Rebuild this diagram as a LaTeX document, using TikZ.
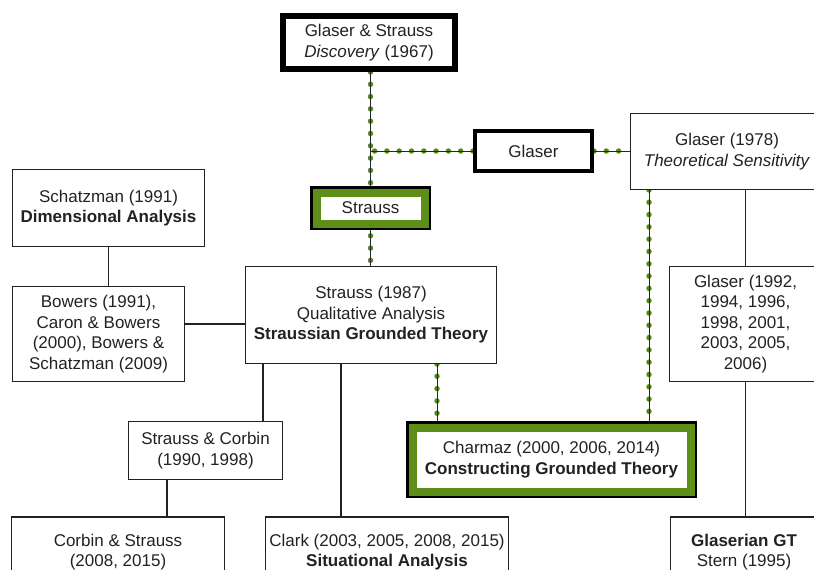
\documentclass[tikz,border=0pt]{standalone}
\usepackage{fontspec}
\setmainfont{Liberation Sans}
\usetikzlibrary{calc}
\definecolor{leaf}{RGB}{92,142,24}
\definecolor{dot}{RGB}{86,138,28}
\definecolor{ink}{RGB}{34,34,34}
\pgfdeclarelayer{links}
\pgfsetlayers{links,main}
\begin{document}
\begin{tikzpicture}[x=1pt,y=-1pt,
  txt/.style={font=\fontsize{17pt}{20.5pt}\selectfont, text=ink, align=center, inner sep=0pt, rectangle},
  plain/.style={txt, draw=ink, line width=1.3pt, fill=white},
  heavy/.style={txt, draw=black, fill=white},
  greenbox/.style={txt, draw=leaf, line width=8pt, fill=white, outer sep=0pt},
  frame/.style={draw=black, line width=2.5pt},
  solidlink/.style={draw=ink, line width=1.4pt},
  dotlink/.style={draw=black!85, line width=1pt,
    preaction={draw=dot, line width=5.5pt, line cap=round, dash pattern=on 0pt off 12.3pt}},
]
\useasboundingbox (0,0) rectangle (814,570);
\clip (0,0) rectangle (814,570);

% top of the tree
\node[heavy, line width=6pt, minimum width=172pt, minimum height=53pt] (disc) at (369,42.5)
  {Glaser \& Strauss\\\textit{Discovery} (1967)};
\node[heavy, line width=4pt, minimum width=117pt, minimum height=40pt] (gl) at (533.5,151) {Glaser};
\node[plain, minimum width=192.7pt, minimum height=75.7pt] (g78) at (727,151.5)
  {Glaser (1978)\\\textit{Theoretical Sensitivity}};
\node[greenbox, minimum width=108pt, minimum height=31pt] (str) at (370.5,208) {Strauss};
\draw[frame] ([shift={(-5.25pt,5.25pt)}]str.north west) rectangle ([shift={(5.25pt,-5.25pt)}]str.south east);

% middle row
\node[plain, minimum width=191.7pt, minimum height=76.7pt] (sch) at (108.5,208)
  {Schatzman (1991)\\\textbf{Dimensional Analysis}};
\node[plain, minimum width=171.7pt, minimum height=94.7pt] (bow) at (98.5,334)
  {Bowers (1991),\\Caron \& Bowers\\(2000), Bowers \&\\Schatzman (2009)};
\node[plain, minimum width=250.7pt, minimum height=96.7pt] (s87) at (371,315)
  {Strauss (1987)\\Qualitative Analysis\\\textbf{Straussian Grounded Theory}};
\node[plain, minimum width=151.7pt, minimum height=114.7pt] (g92) at (745.5,324)
  {Glaser (1992,\\1994, 1996,\\1998, 2001,\\2003, 2005,\\2006)};
\node[plain, minimum width=153.7pt, minimum height=57.7pt] (sc) at (205.5,450.5)
  {Strauss \& Corbin\\(1990, 1998)};
\node[greenbox, minimum width=278pt, minimum height=64pt] (cha) at (551.5,459.5)
  {Charmaz (2000, 2006, 2014)\\\textbf{Constructing Grounded Theory}};
\draw[frame] ([shift={(-5.25pt,5.25pt)}]cha.north west) rectangle ([shift={(5.25pt,-5.25pt)}]cha.south east);

% bottom row
\node[plain, minimum width=212.7pt, minimum height=70pt] (cs) at (118,552)
  {Corbin \& Strauss\\(2008, 2015)};
\node[plain, minimum width=242.7pt, minimum height=70pt] (cla) at (387,552)
  {Clark (2003, 2005, 2008, 2015)\\\textbf{Situational Analysis}};
\node[plain, minimum width=146.7pt, minimum height=70pt] (ggt) at (744,552)
  {\textbf{Glaserian GT}\\Stern (1995)};

% connectors, kept behind the boxes
\begin{pgfonlayer}{links}
  \draw[dotlink] (str.center |- disc.south) -- (str.north);
  \draw[dotlink] (gl.west) -- (str.center |- gl.west);
  \draw[dotlink] (gl.east) -- (gl.east -| g78.west);
  \draw[dotlink] (str.south) -- (str.south |- s87.north);
  \draw[dotlink] ([xshift=66pt]s87.south) -- ([xshift=66pt]s87.south |- cha.north);
  \draw[dotlink] ([xshift=-78pt]g78.south) -- ([xshift=-78pt]g78.south |- cha.north);
  \draw[solidlink] (g92.north |- g78.south) -- (g92.north);
  \draw[solidlink] (g92.south) -- (g92.south |- ggt.north);
  \draw[solidlink] (sch.south) -- (sch.south |- bow.north);
  \draw[solidlink] ([yshift=10pt]bow.east) -- ([yshift=10pt]bow.east -| s87.west);
  \draw[solidlink] ([xshift=-108pt]s87.south) -- ([xshift=-108pt]s87.south |- sc.north);
  \draw[solidlink] ([xshift=-30pt]s87.south) -- ([xshift=-30pt]s87.south |- cla.north);
  \draw[solidlink] ([xshift=-38.5pt]sc.south) -- ([xshift=-38.5pt]sc.south |- cs.north);
\end{pgfonlayer}
\end{tikzpicture}
\end{document}
